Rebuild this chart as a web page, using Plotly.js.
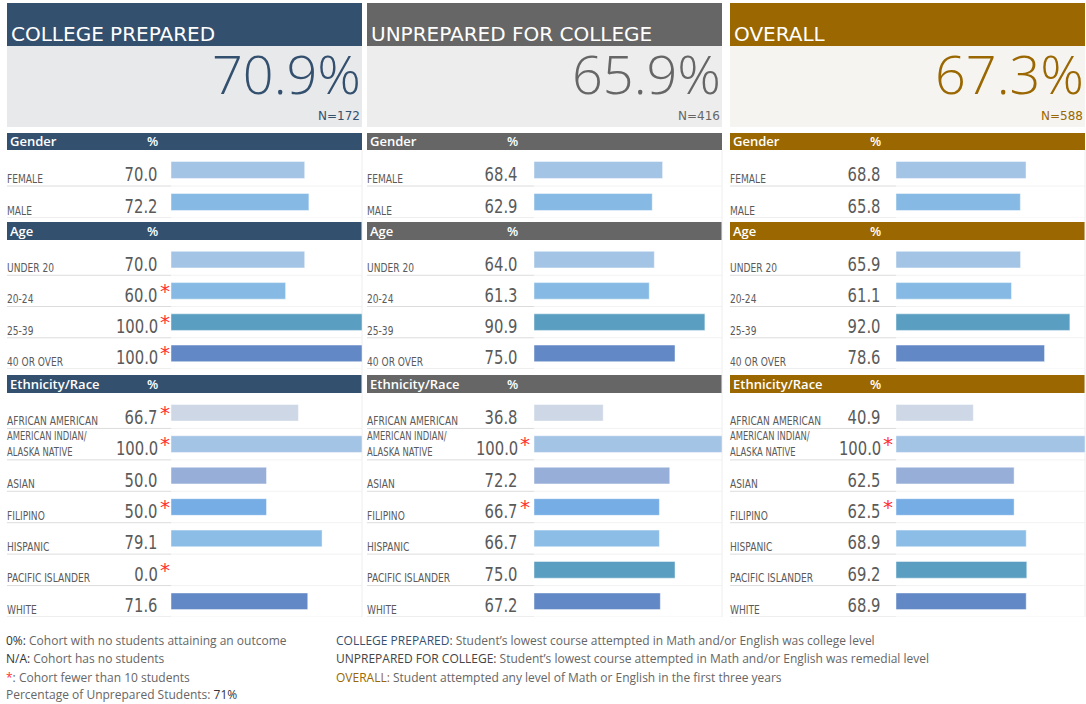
<!DOCTYPE html>
<html><head><meta charset="utf-8">
<script src="https://cdn.plot.ly/plotly-3.0.1.min.js"></script>
<style>html,body{margin:0;padding:0;background:#fff;}#chart{width:1086px;height:704px;}</style>
</head><body><div id="chart"></div>
<script>
// ---------- DATA ----------
const panelNames = ['COLLEGE PREPARED', 'UNPREPARED FOR COLLEGE', 'OVERALL'];
const overallPct = [70.9, 65.9, 67.3];
const cohortN = [172, 416, 588];

const genderCats = ['FEMALE', 'MALE'];
const genderVals = [[70.0, 72.2], [68.4, 62.9], [68.8, 65.8]];
const genderStar = [[0, 0], [0, 0], [0, 0]];

const ageCats = ['UNDER 20', '20-24', '25-39', '40 OR OVER'];
const ageVals = [[70.0, 60.0, 100.0, 100.0], [64.0, 61.3, 90.9, 75.0], [65.9, 61.1, 92.0, 78.6]];
const ageStar = [[0, 1, 1, 1], [0, 0, 0, 0], [0, 0, 0, 0]];

const ethCats = ['AFRICAN AMERICAN', 'AMERICAN INDIAN/<br>ALASKA NATIVE', 'ASIAN', 'FILIPINO', 'HISPANIC', 'PACIFIC ISLANDER', 'WHITE'];
const ethVals = [[66.7, 100.0, 50.0, 50.0, 79.1, 0.0, 71.6], [36.8, 100.0, 72.2, 66.7, 66.7, 75.0, 67.2], [40.9, 100.0, 62.5, 62.5, 68.9, 69.2, 68.9]];
const ethStar = [[1, 1, 0, 1, 0, 1, 0], [0, 1, 0, 1, 0, 0, 0], [0, 1, 0, 1, 0, 0, 0]];

const sectionNames = ['Gender', 'Age', 'Ethnicity/Race'];
const unpreparedShare = '71%';

// ---------- STYLE ----------
const W = 1086, H = 704;
const X = v => v / W, Y = v => 1 - v / H;
const headColors = ['#34506f', '#666666', '#9a6700'];
const boxColors = ['#e8e9eb', '#ededed', '#f5f4f0'];
const panelL = [7, 367, 730], panelR = [362, 722, 1085], barL = [171, 534, 896];
const genderColors = ['#a4c4e6', '#86bae4'];
const ageColors = ['#a4c4e6', '#86bae4', '#5a9ec2', '#6388c6'];
const ethColors = ['#cdd7e6', '#a4c4e6', '#97aed9', '#76ade5', '#8bbde6', '#5a9ec2', '#6388c6'];
const sectionBand = [[133, 150], [222, 240], [375, 393]];
const sectionDomain = [[154, 218], [244, 369], [397, 617]];
const baseFont = 'DejaVu Sans, sans-serif';

const sections = [
  {cats: genderCats, vals: genderVals, star: genderStar, colors: genderColors},
  {cats: ageCats, vals: ageVals, star: ageStar, colors: ageColors},
  {cats: ethCats, vals: ethVals, star: ethStar, colors: ethColors}
];

const traces = [], shapes = [], annotations = [];
const squeeze = {}; // annotation index -> horizontal compression factor (narrow look)
const layout = {
  width: W, height: H, margin: {l: 0, r: 0, t: 0, b: 0},
  paper_bgcolor: '#ffffff', plot_bgcolor: 'rgba(0,0,0,0)',
  showlegend: false, hovermode: false
};

panelNames.forEach((p, pi) => {
  const key = pi === 0 ? 'xaxis' : 'xaxis' + (pi + 1);
  layout[key] = {domain: [X(barL[pi]), X(panelR[pi])], range: [0, 100], visible: false, fixedrange: true, anchor: 'y'};
});
sections.forEach((s, si) => {
  const key = si === 0 ? 'yaxis' : 'yaxis' + (si + 1);
  layout[key] = {domain: [Y(sectionDomain[si][1]), Y(sectionDomain[si][0])], type: 'category',
    categoryorder: 'array', categoryarray: s.cats, range: [s.cats.length - 0.5, -0.5], visible: false, fixedrange: true, anchor: 'x'};
});

panelNames.forEach((pname, pi) => {
  const L = panelL[pi], R = panelR[pi];
  shapes.push({type: 'rect', xref: 'paper', yref: 'paper', x0: X(L), x1: X(R), y0: Y(46), y1: Y(3), fillcolor: headColors[pi], line: {width: 0}, layer: 'below'});
  shapes.push({type: 'rect', xref: 'paper', yref: 'paper', x0: X(L), x1: X(R), y0: Y(127), y1: Y(46), fillcolor: boxColors[pi], line: {width: 0}, layer: 'below'});
  annotations.push({xref: 'paper', yref: 'paper', x: X(L + 4), y: Y(34), xanchor: 'left', yanchor: 'middle', height: 24, showarrow: false, borderpad: 0, borderwidth: 0,
    text: pname, font: {family: baseFont, size: 20, color: '#ffffff'}});
  annotations.push({xref: 'paper', yref: 'paper', x: X(R - 1), y: Y(72.5), xanchor: 'right', yanchor: 'middle', height: 50, showarrow: false, borderpad: 0, borderwidth: 0,
    text: overallPct[pi].toFixed(1) + '%', font: {family: 'Open Sans, sans-serif', size: 54, color: headColors[pi], weight: 300}});
  annotations.push({xref: 'paper', yref: 'paper', x: X(R - 2), y: Y(116), xanchor: 'right', yanchor: 'middle', showarrow: false, borderpad: 0, borderwidth: 0,
    text: 'N=' + cohortN[pi], font: {family: baseFont, size: 12, color: headColors[pi]}});

  sections.forEach((s, si) => {
    const yref = si === 0 ? 'y' : 'y' + (si + 1);
    const xref = pi === 0 ? 'x' : 'x' + (pi + 1);
    const bandMid = (sectionBand[si][0] + sectionBand[si][1]) / 2;
    shapes.push({type: 'rect', xref: 'paper', yref: 'paper', x0: X(L), x1: X(R), y0: Y(sectionBand[si][1]), y1: Y(sectionBand[si][0]),
      fillcolor: headColors[pi], line: {width: 0}, layer: 'below'});
    annotations.push({xref: 'paper', yref: 'paper', x: X(L + 3), y: Y(bandMid), xanchor: 'left', yanchor: 'middle', borderpad: 0, borderwidth: 0,
      showarrow: false, text: sectionNames[si], font: {family: 'Open Sans, sans-serif', size: 13, color: '#ffffff', weight: 600}});
    annotations.push({xref: 'paper', yref: 'paper', x: X(L + 145), y: Y(bandMid), xanchor: 'center', yanchor: 'middle', borderpad: 0, borderwidth: 0,
      showarrow: false, text: '%', font: {family: 'Open Sans, sans-serif', size: 13, color: '#ffffff', weight: 600}});

    traces.push({type: 'bar', orientation: 'h', x: s.vals[pi], y: s.cats, xaxis: xref, yaxis: yref,
      marker: {color: s.colors, line: {color: 'rgba(255,255,255,0.45)', width: 1}}, width: 0.53, hoverinfo: 'skip'});

    s.cats.forEach((c, ci) => {
      const multi = c.indexOf('<br>') >= 0;
      squeeze[annotations.length] = 0.7;
      annotations.push({xref: 'paper', yref: yref, x: X(L), y: c, xanchor: 'left', yanchor: 'middle', yshift: multi ? 0 : -8, showarrow: false,
        align: 'left', borderpad: 0, borderwidth: 0, text: c, font: {family: baseFont, size: multi ? 12 : 13, color: '#5a5a5a'}});
      squeeze[annotations.length] = 0.74;
      annotations.push({xref: 'paper', yref: yref, x: X(L + 151), y: c, xanchor: 'right', yanchor: 'middle', yshift: -4, showarrow: false,
        align: 'right', borderpad: 0, borderwidth: 0, text: s.vals[pi][ci].toFixed(1), font: {family: baseFont, size: 20, color: '#5a5a5a'}});
      if (s.star[pi][ci]) {
        annotations.push({xref: 'paper', yref: yref, x: X(L + 153), y: c, xanchor: 'left', yanchor: 'middle', yshift: 0, showarrow: false,
          borderpad: 0, borderwidth: 0, text: '*', font: {family: baseFont, size: 20, color: '#ff3030'}});
      }
      shapes.push({type: 'line', xref: 'paper', yref: yref, x0: X(L), x1: X(barL[pi]), y0: ci + 0.5, y1: ci + 0.5, line: {color: '#dcdcdc', width: 1}, layer: 'below'});
      shapes.push({type: 'line', xref: 'paper', yref: yref, x0: X(barL[pi]), x1: X(R), y0: ci + 0.5, y1: ci + 0.5, line: {color: '#f2f2f2', width: 1}, layer: 'below'});
    });
  });
  shapes.push({type: 'line', xref: 'paper', yref: 'paper', x0: X(R), x1: X(R), y0: Y(617), y1: Y(150), line: {color: '#eeeeee', width: 1}, layer: 'below'});
});

// footnotes
const fnFont = {family: 'Open Sans, sans-serif', size: 12, color: '#666666'};
const leftNotes = [
  '<span style="color:#333333">0%:</span> Cohort with no students attaining an outcome',
  '<span style="color:#333333">N/A:</span> Cohort has no students',
  '<span style="color:#ff3030">*</span>: Cohort fewer than 10 students',
  'Percentage of Unprepared Students: <span style="color:#333333">' + unpreparedShare + '</span>'
];
const noteY = [640, 658, 677, 694];
leftNotes.forEach((t, i) => annotations.push({xref: 'paper', yref: 'paper', x: X(6), y: Y(noteY[i]), xanchor: 'left', yanchor: 'middle', showarrow: false, borderpad: 0, borderwidth: 0, text: t, font: fnFont}));
const midNotes = [
  '<span style="color:' + headColors[0] + '">COLLEGE PREPARED:</span> Student’s lowest course attempted in Math and/or English was college level',
  '<span style="color:#444444">UNPREPARED FOR COLLEGE:</span> Student’s lowest course attempted in Math and/or English was remedial level',
  '<span style="color:' + headColors[2] + '">OVERALL:</span> Student attempted any level of Math or English in the first three years'
];
midNotes.forEach((t, i) => annotations.push({xref: 'paper', yref: 'paper', x: X(336), y: Y(noteY[i]), xanchor: 'left', yanchor: 'middle', showarrow: false, borderpad: 0, borderwidth: 0, text: t, font: fnFont}));

layout.shapes = shapes;
layout.annotations = annotations;
Plotly.newPlot('chart', traces, layout, {staticPlot: true, displayModeBar: false}).then(gd => {
  gd.querySelectorAll('g.annotation').forEach(g => {
    const idx = +g.getAttribute('data-index');
    const s = squeeze[idx];
    if (s) {
      const t = g.querySelector('text.annotation-text');
      if (t) {
        const x0 = parseFloat(t.getAttribute('x')) || 0;
        t.setAttribute('transform', 'translate(' + (x0 * (1 - s)).toFixed(2) + ',0) scale(' + s + ',1)');
      }
    }
  });
});
</script></body></html>
